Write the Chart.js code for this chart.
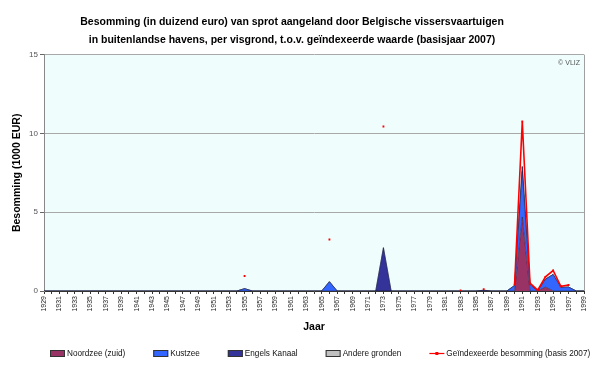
<!DOCTYPE html>
<html>
<head>
<meta charset="utf-8">
<script src="https://cdn.jsdelivr.net/npm/chart.js@4/dist/chart.umd.min.js"></script>
<style>
  html, body { margin: 0; padding: 0; background: #ffffff; }
  #wrap { width: 600px; height: 368px; }
</style>
</head>
<body>
<div id="wrap"><canvas id="sprotChart" width="600" height="368"></canvas></div>
<script>
// ------------------------------
// Data (1000 EUR), one value per year 1929-1999
// ------------------------------
const years = [];
for (let y = 1929; y <= 1999; y++) years.push(String(y));

const noordzee = [
  0,
  0, 0, 0, 0, 0, 0, 0, 0, 0, 0,   // 1930s
  0, 0, 0, 0, 0, 0, 0, 0, 0, 0,   // 1940s
  0, 0, 0, 0, 0, 0, 0, 0, 0, 0,   // 1950s
  0, 0, 0, 0, 0, 0, 0, 0, 0, 0,   // 1960s
  0, 0, 0, 0, 0, 0, 0, 0, 0, 0,   // 1970s
  0, 0, 0, 0, 0, 0, 0, 0, 0, 0,   // 1980s
  0, 4.7, 0, 0, 0.25, 0, 0, 0, 0, 0 // 1990s
];
const kustzee = [
  0,
  0, 0, 0, 0, 0, 0, 0, 0, 0, 0,
  0, 0, 0, 0, 0, 0, 0, 0, 0, 0,
  0, 0, 0, 0, 0, 0.15, 0, 0, 0, 0,
  0, 0, 0, 0, 0, 0, 0.59, 0, 0, 0,
  0, 0, 0, 0, 0, 0, 0, 0, 0, 0,
  0, 0, 0, 0, 0, 0, 0, 0, 0, 0,
  0.35, 2.9, 0.4, 0, 0.5, 1.05, 0.23, 0.25, 0, 0
];
const engelsKanaal = [
  0,
  0, 0, 0, 0, 0, 0, 0, 0, 0, 0,
  0, 0, 0, 0, 0, 0, 0, 0, 0, 0,
  0, 0, 0, 0, 0, 0, 0, 0, 0, 0,
  0, 0, 0, 0, 0, 0, 0, 0, 0, 0,
  0, 0, 0, 2.75, 0, 0, 0, 0, 0, 0,
  0, 0, 0, 0, 0, 0, 0.05, 0, 0, 0,
  0, 0.3, 0, 0, 0, 0, 0, 0, 0, 0
];
const andereGronden = [
  0,
  0, 0, 0, 0, 0, 0, 0, 0, 0, 0,
  0, 0, 0, 0, 0, 0, 0, 0, 0, 0,
  0, 0, 0, 0, 0, 0, 0, 0, 0, 0,
  0, 0, 0, 0, 0, 0, 0, 0, 0, 0,
  0, 0, 0, 0, 0, 0, 0, 0, 0, 0,
  0, 0, 0, 0, 0, 0, 0, 0, 0, 0,
  0, 0, 0, 0, 0, 0, 0, 0, 0, 0
];
const geindexeerd = [
  null,
  null, null, null, null, null, null, null, null, null, null,
  null, null, null, null, null, null, null, null, null, null,
  null, null, null, null, null, 0.95, null, null, null, null,
  null, null, null, null, null, null, 3.27, null, null, null,
  null, null, null, 10.44, null, null, null, null, null, null,
  null, null, null, 0.03, null, null, 0.12, null, null, null,
  0.4, 10.76, 0.5, 0.05, 0.9, 1.3, 0.3, 0.38, null, null
];
const yTicks = [0, 5, 10, 15];

const FONT = "'Liberation Sans', Arial, sans-serif";

// ------------------------------
// Plot background, right border, copyright
// ------------------------------
const plotDecor = {
  id: 'plotDecor',
  beforeDraw(chart) {
    const { ctx, chartArea: a } = chart;
    ctx.save();
    ctx.fillStyle = '#effdfd';
    ctx.fillRect(a.left, a.top, a.right - a.left, a.bottom - a.top);
    ctx.restore();
  },
  afterDraw(chart) {
    const { ctx, chartArea: a } = chart;
    ctx.save();
    ctx.strokeStyle = '#a0a0a0';
    ctx.lineWidth = 1;
    ctx.beginPath();
    ctx.moveTo(Math.round(a.right) + 0.5, a.top);
    ctx.lineTo(Math.round(a.right) + 0.5, a.bottom);
    ctx.stroke();
    ctx.fillStyle = '#555555';
    ctx.font = '7px ' + FONT;
    ctx.textAlign = 'right';
    ctx.textBaseline = 'middle';
    ctx.fillText('\u00A9 VLIZ', a.right - 4, a.top + 8);
    ctx.restore();
  }
};

// ------------------------------
// Legend drawn by hand (boxes + line item)
// ------------------------------
const bottomLegend = {
  id: 'bottomLegend',
  afterDraw(chart) {
    const { ctx } = chart;
    const y = 353;
    let x = 50;
    ctx.save();
    ctx.font = '8.2px ' + FONT;
    ctx.textBaseline = 'middle';
    chart.data.datasets.forEach((ds) => {
      if (ds.fill === false) {
        ctx.strokeStyle = ds.borderColor;
        ctx.lineWidth = 1.2;
        ctx.beginPath();
        ctx.moveTo(x, y + 0.5);
        ctx.lineTo(x + 15, y + 0.5);
        ctx.stroke();
        ctx.fillStyle = ds.borderColor;
        ctx.fillRect(x + 6, y - 1, 3, 3);
      } else {
        ctx.fillStyle = ds.backgroundColor;
        ctx.fillRect(x, y - 3, 15, 7);
        ctx.strokeStyle = '#333';
        ctx.lineWidth = 1;
        ctx.strokeRect(x + 0.5, y - 2.5, 14, 6);
      }
      ctx.fillStyle = '#111';
      ctx.fillText(ds.label, x + 17, y + 0.5);
      x += 17 + ctx.measureText(ds.label).width + 28;
    });
    ctx.restore();
  }
};

function areaSet(label, data, color, fill) {
  return {
    type: 'line',
    label: label,
    data: data,
    backgroundColor: color,
    borderColor: '#1a1a40',
    borderWidth: 0.5,
    pointRadius: 0,
    tension: 0,
    fill: fill,
    stack: 'areas',
    order: 1
  };
}

new Chart(document.getElementById('sprotChart'), {
  type: 'line',
  data: {
    labels: years,
    datasets: [
      areaSet('Noordzee (zuid)', noordzee, '#993366', 'origin'),
      areaSet('Kustzee', kustzee, '#3366ff', '-1'),
      areaSet('Engels Kanaal', engelsKanaal, '#333399', '-1'),
      areaSet('Andere gronden', andereGronden, '#c0c0c0', '-1'),
      {
        type: 'line',
        label: 'Ge\u00EFndexeerde besomming (basis 2007)',
        data: geindexeerd,
        borderColor: '#ff0000',
        backgroundColor: '#ff0000',
        borderWidth: 1.6,
        pointRadius: 1.3,
        pointStyle: 'rect',
        pointBorderWidth: 0,
        tension: 0,
        fill: false,
        spanGaps: false,
        stack: 'index',
        order: 0
      }
    ]
  },
  options: {
    responsive: false,
    animation: false,
    layout: { padding: { top: 0, right: 16, bottom: 30, left: 0 } },
    plugins: {
      legend: { display: false },
      tooltip: { enabled: false },
      title: {
        display: true,
        text: [
          'Besomming (in duizend euro) van sprot aangeland door Belgische vissersvaartuigen',
          'in buitenlandse havens, per visgrond, t.o.v. ge\u00EFndexeerde waarde (basisjaar 2007)'
        ],
        color: '#000',
        font: { family: FONT, size: 10.5, weight: 'bold', lineHeight: 1.7 },
        padding: { top: 13, bottom: 6 }
      }
    },
    scales: {
      x: {
        offset: false,
        afterFit(s) { s.height = 47; },
        grid: {
          drawOnChartArea: false,
          drawTicks: true,
          tickLength: 3,
          color: '#333'
        },
        border: { color: '#333', width: 1 },
        ticks: {
          autoSkip: false,
          maxRotation: 90,
          minRotation: 90,
          padding: 2,
          color: '#222',
          font: { family: FONT, size: 7 },
          callback(value, index) { return index % 2 === 0 ? this.getLabelForValue(value) : ''; }
        },
        title: {
          display: true,
          text: 'Jaar',
          color: '#000',
          font: { family: FONT, size: 10.5, weight: 'bold' },
          padding: { top: 0, bottom: 5 }
        }
      },
      y: {
        stacked: true,
        min: 0,
        max: 15,
        afterFit(s) { s.width = 44; },
        afterBuildTicks(s) { s.ticks = yTicks.map(v => ({ value: v })); },
        grid: {
          color: '#a8a8a8',
          lineWidth: 1,
          tickLength: 4,
          tickColor: '#666'
        },
        border: { color: '#888', width: 1 },
        ticks: {
          padding: 2,
          color: '#555',
          font: { family: FONT, size: 8 }
        },
        title: {
          display: true,
          text: 'Besomming (1000 EUR)',
          color: '#000',
          font: { family: FONT, size: 10.5, weight: 'bold' },
          padding: { top: 11, bottom: 0 }
        }
      }
    }
  },
  plugins: [plotDecor, bottomLegend]
});
</script>
</body>
</html>
